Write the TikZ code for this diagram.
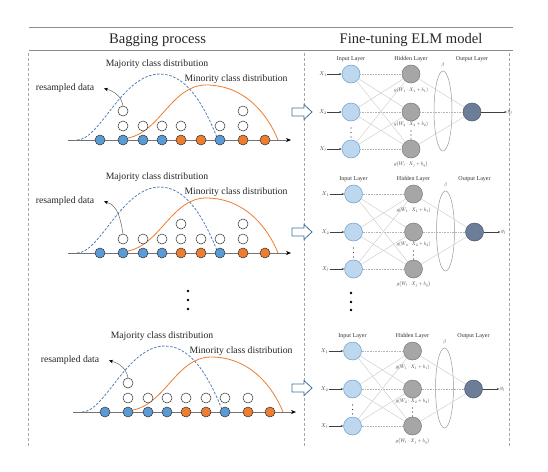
\documentclass[tikz,border=0pt]{standalone}
\usepackage{fontspec}
\setmainfont{Liberation Serif}
\usetikzlibrary{arrows.meta,shapes.geometric}
\definecolor{bluec}{HTML}{5B9BD5}
\definecolor{orangec}{HTML}{ED7D31}
\definecolor{majblue}{HTML}{4F81BD}
\definecolor{inblue}{HTML}{BDD7EE}
\definecolor{inborder}{HTML}{6E9FCF}
\definecolor{hidgray}{HTML}{A6A6A6}
\definecolor{hidborder}{HTML}{7A7A7A}
\definecolor{outfill}{HTML}{6B7D97}
\definecolor{outborder}{HTML}{4A5870}
\definecolor{rulegray}{HTML}{8C8C8C}
\definecolor{linkgray}{HTML}{CDCDCD}
\definecolor{arrowblue}{HTML}{41719C}
\tikzset{
  sdot/.style={circle, draw=black!80, line width=0.5pt, minimum size=10pt, inner sep=0pt},
  sdotb/.style={sdot, fill=bluec},
  sdoto/.style={sdot, fill=orangec},
  wdot/.style={sdot, fill=white},
  lbl/.style={inner sep=0pt, font=\fontsize{9.7}{11}\selectfont, text=black!85},
  head/.style={inner sep=0pt, font=\fontsize{14.6}{17}\selectfont, text=black!85},
  layerlbl/.style={inner sep=0pt, font=\fontsize{6}{7}\selectfont, text=black!80},
  mlbl/.style={inner sep=0pt, font=\fontsize{10}{12}\selectfont, text=black!80, scale=0.5},
  xlbl/.style={inner sep=1pt, font=\fontsize{10}{12}\selectfont, text=black!80, scale=0.55},
  axisline/.style={draw=black!55, line width=0.7pt, -{Stealth[length=5pt,width=4pt,color=black]}},
  majcurve/.style={draw=majblue, line width=0.8pt, dash pattern=on 2.5pt off 1.6pt},
  mincurve/.style={draw=orangec, line width=0.8pt},
  resarrow/.style={draw=black!60, line width=0.5pt, -{Stealth[length=4pt,width=3.5pt,color=black]}},
  innode/.style={circle, draw=inborder, fill=inblue, line width=0.5pt, minimum size=18pt, inner sep=0pt},
  hidnode/.style={circle, draw=hidborder, fill=hidgray, line width=0.5pt, minimum size=18pt, inner sep=0pt},
  outnode/.style={circle, draw=outborder, fill=outfill, line width=0.5pt, minimum size=18pt, inner sep=0pt},
  betaell/.style={ellipse, draw=black!40, line width=0.5pt, minimum width=18pt, minimum height=80pt, inner sep=0pt},
  linkd/.style={draw=linkgray, line width=0.45pt},
  linkh/.style={draw=black!30, line width=0.45pt, dash pattern=on 0.8pt off 0.8pt},
  inarr/.style={draw=black!75, line width=0.45pt, -{Stealth[length=2.5pt,width=2pt]}},
  vdash/.style={draw=black!35, line width=0.45pt, dash pattern=on 3pt off 2pt},
  hollow/.style={draw=arrowblue, line width=0.8pt, fill=white, line join=miter},
  rulel/.style={draw=rulegray, line width=1.4pt}
}
\newcommand\bagpanel[5]{%
\begin{scope}[shift={(#1,#2)}]
  \coordinate (#4-ax0) at (68,0);
  \coordinate (#4-ax1) at (291,0);
  \draw[axisline] (#4-ax0) -- (#4-ax1);
  \draw[majcurve] (77,0) .. controls (100,0) and (122,-66) .. (160,-66) .. controls (190,-66) and (208,-25) .. (218,0);
  \draw[mincurve] (128,-2) .. controls (160,-8) and (172,-55) .. (206,-55) .. controls (245,-55) and (268,-25) .. (278,0);
  \foreach \cc/\kk in {100/b,123/b,143/b,162/b,181/o,201/o,220/b,243/o,265/o}
    \node[sdot\kk] (#4-f\cc) at (\cc,0) {};
  \foreach \cc/\rr in {#3}
    \node[wdot] (#4-w\cc\rr) at (\cc,{-14-15*(\rr-1)}) {};
  \node[lbl] (#4-maj) at (157,-76) {Majority class distribution};
  \node[lbl] (#4-min) at (236,-61) {Minority class distribution};
  \node[lbl] (#4-res) at (65,-51.5) {resampled data};
  \coordinate (#4-tip) at (104,-51.5);
  \draw[resarrow] (#5.north) to[out=100,in=-15] (#4-tip);
\end{scope}}
\newcommand\elmpanel[4]{%
\begin{scope}[shift={(#1,#2)}]
  \node[layerlbl] (#3-lin) at (351,-15) {Input Layer};
  \node[layerlbl] (#3-lhid) at (411,-15) {Hidden Layer};
  \node[layerlbl] (#3-lout) at (472,-15) {Output Layer};
  \foreach \i/\yy in {1/0,2/38,3/75} {
    \node[innode] (#3-i\i) at (351,\yy) {};
    \node[hidnode] (#3-h\i) at (411,\yy) {};
  }
  \node[outnode] (#3-o) at (472,38) {};
  \node[betaell] (#3-ell) at (443,37) {};
  \node[mlbl] (#3-beta) at (443,-9) {$\beta$};
  \foreach \i in {1,2,3} \draw[linkh] (#3-i\i) -- (#3-h\i);
  \foreach \i/\h in {1/2,1/3,2/1,2/3,3/1,3/2} \draw[linkd] (#3-i\i) -- (#3-h\h);
  \draw[linkd] (#3-h1) -- (#3-o);
  \draw[linkh] (#3-h2) -- (#3-o);
  \draw[linkd] (#3-h3) -- (#3-o);
  \foreach \i/\yy/\lab in {1/0/X_1,2/38/X_2,3/75/X_j} {
    \node[xlbl] (#3-x\i) at (323,\yy) {$\lab$};
    \draw[inarr] (#3-x\i) -- (#3-i\i);
  }
  \node[xlbl] (#3-y) at (#4,38) {$y_j$};
  \draw[inarr] (#3-o) -- (#3-y);
  \node[mlbl] (#3-g1) at (411,16) {$g(W_1\cdot X_1+b_1)$};
  \node[mlbl] (#3-g2) at (411,50) {$g(W_2\cdot X_2+b_2)$};
  \node[mlbl] (#3-g3) at (411,90) {$g\bigl(W_l\cdot X_j+b_q\bigr)$};
  \foreach \yy in {54,58.5,63} \fill[black!80] (351,\yy) circle (0.6pt);
  \foreach \yy in {57,61,65} \fill[black!80] (411,\yy) circle (0.6pt);
\end{scope}}
\begin{document}
\begin{tikzpicture}[x=1pt,y=-1pt]
  \fill[white] (0,0) rectangle (548,471);
  \useasboundingbox (0,0) rectangle (548,471);
  % header
  \draw[rulel] (29,27.3) -- (513,27.3);
  \draw[rulel] (29,50.7) -- (513,50.7);
  \node[head] (h1) at (157.5,40) {Bagging process};
  \node[head] (h2) at (411,40) {Fine-tuning ELM model};
  % separators
  \draw[vdash] (28,53) -- (28,447);
  \draw[vdash] (304,53) -- (304,447);
  \draw[vdash] (509,53) -- (509,447);
  % bagging panels
  \bagpanel{0}{140}{123/1,123/2,143/1,162/1,181/1,220/1,243/1,243/2}{a}{a-w1232}
  \bagpanel{0}{253}{123/1,143/1,162/1,181/1,181/2,201/1,220/1,243/1,243/2}{b}{b-w1231}
  \bagpanel{5}{412}{123/1,123/2,143/1,162/1,181/1,201/1,220/1,243/1}{c}{c-w1232}
  % vertical ellipsis (left)
  \foreach \yy in {291,300,309} \fill[black] (188,\yy) circle (1.3pt);
  % vertical ellipsis (right)
  \foreach \yy in {293,302,310} \fill[black] (351,\yy) circle (1.3pt);
  % ELM panels
  \elmpanel{0}{74}{p}{510}
  \elmpanel{2.5}{194}{q}{501}
  \elmpanel{1.5}{351}{r}{501}
  % hollow arrows
  \foreach \yy in {112,232,388}
    \draw[hollow] (292,\yy-4) -- (304,\yy-4) -- (304,\yy-7.5) -- (312,\yy) -- (304,\yy+7.5) -- (304,\yy+4) -- (292,\yy+4) -- cycle;
\end{tikzpicture}
\end{document}
